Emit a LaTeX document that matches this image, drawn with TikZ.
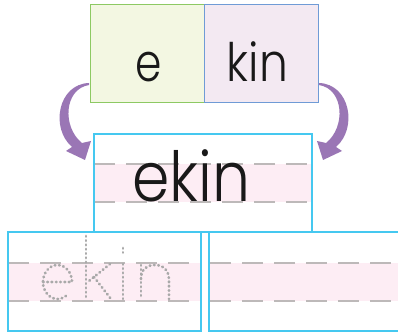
\documentclass[tikz,border=0pt]{standalone}
\usepackage{fontspec}
\newfontfamily\popf{Poppins Light}
\definecolor{boxcyan}{HTML}{45C8F0}
\definecolor{dashgray}{HTML}{BDB9B9}
\definecolor{bandpink}{HTML}{FDEDF4}
\definecolor{greenfill}{HTML}{F3F7E2}
\definecolor{greenline}{HTML}{8DC963}
\definecolor{lilacfill}{HTML}{F3E9F2}
\definecolor{blueline}{HTML}{6F9BD6}
\definecolor{arrowpurple}{HTML}{9A76B5}
\definecolor{dotgray}{HTML}{A9A9A9}
\begin{document}
\begin{tikzpicture}[x=1pt,y=-1pt,
  cyanbox/.style={draw=boxcyan,line width=1.6pt},
  guide/.style={draw=dashgray,line width=1.4pt,dash pattern=on 21pt off 11pt},
  band/.style={fill=bandpink},
  tracedots/.style={draw=dotgray,line width=2.8pt,line cap=round,dash pattern=on 0.6pt off 3.7pt},
  wordtext/.style={inner sep=0pt,anchor=base,text=black!90}]
\useasboundingbox (0,0) rectangle (398,336);
% top boxes
\node[draw=greenline,fill=greenfill,line width=1pt,minimum width=114pt,minimum height=98pt,inner sep=0pt] (ebox) at (147,54) {};
\node[draw=blueline,fill=lilacfill,line width=1pt,minimum width=114pt,minimum height=98pt,inner sep=0pt] (kbox) at (261,54) {};
\node[wordtext,font=\popf\fontsize{53}{53}\selectfont] (etxt) at (148.5,82) {\scalebox{0.8}[1]{e}};
\node[wordtext,font=\popf\fontsize{53}{53}\selectfont] (ktxt) at (257.5,82) {\scalebox{0.86}[1]{kin}};
% arrows
\fill[arrowpurple] (89,83) .. controls (58,84) and (50,128) .. (72,147) -- (66,151) -- (85,160) -- (91,141) -- (82,143) .. controls (62,127) and (64,89) .. (89,85) -- cycle;
\begin{scope}[xshift=408pt,xscale=-1]
\fill[arrowpurple] (89,83) .. controls (58,84) and (50,128) .. (72,147) -- (66,151) -- (85,160) -- (91,141) -- (82,143) .. controls (62,127) and (64,89) .. (89,85) -- cycle;
\end{scope}
% bottom boxes
\begin{scope}
\clip (0,0) rectangle (398,336);
\fill[band] (8,263) rectangle (201,301);
\fill[band] (209,263) rectangle (404,301);
\draw[guide] (8,263) -- (200,263);
\draw[guide] (8,301) -- (200,301);
\draw[guide] (210,263) -- (404,263);
\draw[guide] (210,301) -- (404,301);
\node[cyanbox,minimum width=193pt,minimum height=99pt,inner sep=0pt] (lbox) at (104.5,281.5) {};
\node[cyanbox,minimum width=195pt,minimum height=99pt,inner sep=0pt] (rbox) at (306.5,281.5) {};
\end{scope}
% middle box
\fill[band] (94,164) rectangle (312,202);
\draw[guide] (94,164) -- (308,164);
\draw[guide] (94,202) -- (308,202);
\node[cyanbox,minimum width=218pt,minimum height=98pt,inner sep=0pt] (mbox) at (203,183) {};
\node[wordtext,font=\popf\fontsize{69}{69}\selectfont] (mtxt) at (191.5,202) {\scalebox{0.87}[1]{ekin}};
% traced word
\draw[tracedots] (43,282) -- (72,282) arc[start angle=0,end angle=-315,x radius=14.5,y radius=17];
\draw[tracedots] (86,236) -- (86,299);
\draw[tracedots] (110,264) -- (89,281);
\draw[tracedots] (94,277) -- (111,299);
\draw[tracedots] (123,264) -- (123,299);
\draw[tracedots] (123,248) -- (123,252.6);
\draw[tracedots] (141,265) -- (141,299);
\draw[tracedots] (141,279) .. controls (141,269) and (147,265) .. (155,265) .. controls (164,265) and (169,271) .. (169,280) -- (169,299);
\end{tikzpicture}
\end{document}
